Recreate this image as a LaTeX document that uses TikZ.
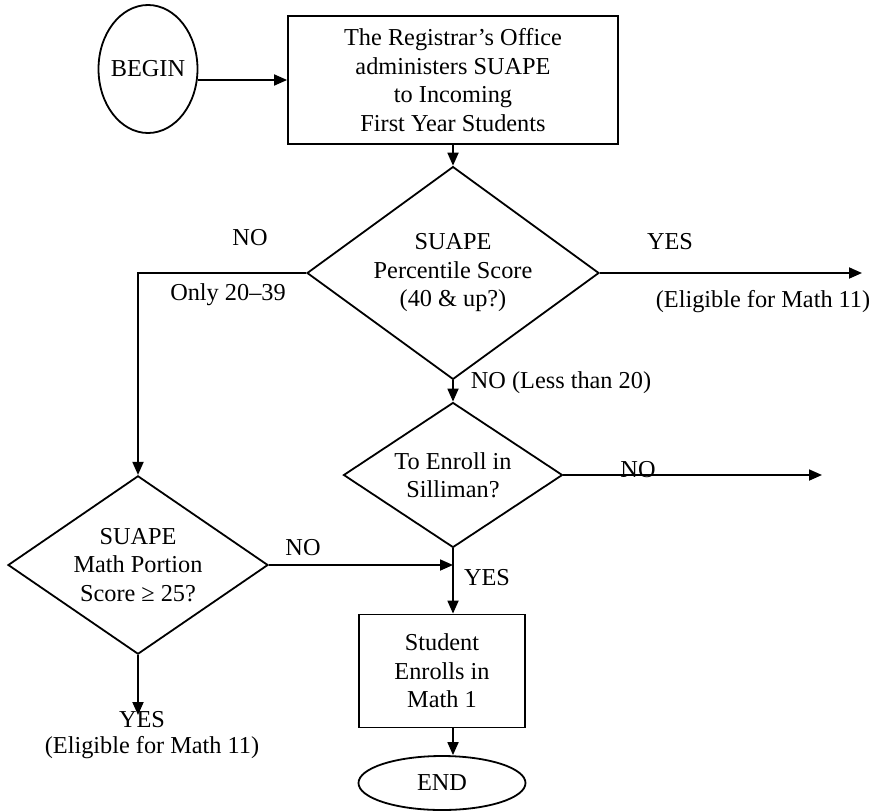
\documentclass[tikz,border=0pt]{standalone}
\usepackage{fontspec}
\setmainfont{Liberation Serif}
\usetikzlibrary{arrows.meta,shapes.geometric}

\begin{document}
\begin{tikzpicture}[x=1pt, y=-1pt, >={Triangle[length=13pt, width=11pt]}, line width=1.8pt,
    font=\fontsize{24.3}{28.5}\selectfont,
    process/.style={draw, rectangle, align=center, inner sep=0pt},
    terminal/.style={draw, ellipse, inner sep=-4pt},
    decision/.style={draw, diamond, align=center, inner sep=-6pt},
    tag/.style={inner sep=0pt}]
    \path[fill=white] (0,0) rectangle (877,810);
    % main column
    \node[terminal, minimum width=99pt, minimum height=128pt] (begin) at (148,69) {BEGIN};
    \node[process, minimum width=330pt, minimum height=128pt] (office) at (453,80) {
      The Registrar’s Office\\
      administers SUAPE\\
      to Incoming\\
      First Year Students
    };
    \node[decision, minimum width=292pt, minimum height=144pt] (percentile) at (453,273) {
      SUAPE\\
      Percentile Score\\
      (40 \& up?)
    };
    \node[decision, minimum width=219pt, minimum height=145pt] (silliman) at (453,475) {
      To Enroll in\\
      Silliman?
    };
    \node[decision, minimum width=260pt, minimum height=170pt] (mathpart) at (138,565) {
      SUAPE\\
      Math Portion\\
      Score ≥ 25?
    };
    \node[process, minimum width=166pt, minimum height=113pt] (enroll) at (442,671) {
      Student\\
      Enrolls in\\
      Math 1
    };
    \node[terminal, minimum width=167pt, minimum height=54pt] (end) at (442,783) {END};
    % free ends
    \coordinate (yesright) at (862,273);
    \coordinate (noright) at (822,475);
    \coordinate (yesdown) at (138,715);
    % labels
    \node[tag] (yesA) at (670,242) {YES};
    \node[tag] (eligA) at (763,302) {(Eligible for Math 11)};
    \node[tag] (noA) at (250,238) {NO};
    \node[tag] (range) at (228,295) {Only 20–39};
    \node[tag, anchor=west] (noB) at (470,383) {NO (Less than 20)};
    \node[tag, anchor=base] (noC) at (638,477) {NO};
    \node[tag] (yesB) at (487,578) {YES};
    \node[tag] (noD) at (303,548) {NO};
    \node[tag] (yesC) at (142,720) {YES};
    \node[tag] (eligB) at (152,748) {(Eligible for Math 11)};
    % connectors
    \draw[->] (begin.east |- office.west) -- (office.west);
    \draw[->] (office.south) -- (percentile.north);
    \draw[->] (percentile.east) -- (yesright);
    \draw[->] (percentile.west) -| (mathpart.north);
    \draw[->] (percentile.south) -- (silliman.north);
    \draw[->] (silliman.east) -- (noright);
    \draw[->] (silliman.south) -- (silliman.south |- enroll.north);
    \draw[->] (mathpart.east) -- (mathpart.east -| silliman.south);
    \draw[->] (mathpart.south) -- (yesdown);
    \draw[->] (enroll.south -| silliman.south) -- (end.north -| silliman.south);
\end{tikzpicture}
\end{document}
